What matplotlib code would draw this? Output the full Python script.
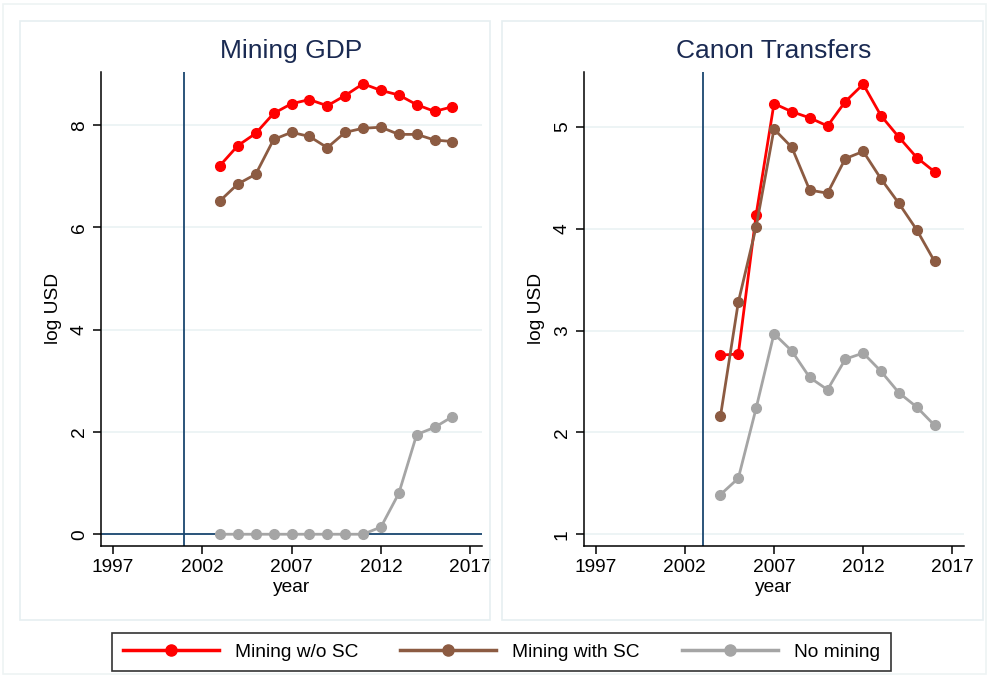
import matplotlib
matplotlib.use("Agg")
from matplotlib import pyplot as plt
from matplotlib.patches import Rectangle
from matplotlib.lines import Line2D

plt.rcParams['font.family'] = ['Liberation Sans', 'DejaVu Sans']

# Mining GDP panel
gdp_years = list(range(2003, 2017))
gdp_no_sc = [7.21, 7.60, 7.84, 8.23, 8.42, 8.50, 8.38, 8.58, 8.81, 8.68, 8.59, 8.40, 8.27, 8.36]
gdp_with_sc = [6.52, 6.85, 7.04, 7.72, 7.86, 7.78, 7.56, 7.86, 7.94, 7.96, 7.82, 7.82, 7.71, 7.68]
gdp_no_mining = [0, 0, 0, 0, 0, 0, 0, 0, 0, 0.14, 0.80, 1.95, 2.09, 2.30]

# Canon transfers panel
canon_years = list(range(2004, 2017))
canon_no_sc = [2.76, 2.77, 4.14, 5.23, 5.15, 5.09, 5.01, 5.25, 5.42, 5.11, 4.90, 4.70, 4.56]
canon_with_sc = [2.16, 3.28, 4.02, 4.98, 4.80, 4.38, 4.35, 4.69, 4.76, 4.49, 4.25, 3.99, 3.68]
canon_no_mining = [1.39, 1.55, 2.24, 2.97, 2.80, 2.54, 2.42, 2.72, 2.78, 2.60, 2.39, 2.25, 2.07]

series_labels = ["Mining w/o SC", "Mining with SC", "No mining"]
colors = ["#ff0000", "#8c5b42", "#a5a5a5"]
navy = "#1a476f"
grid_col = "#eaf2f3"
FS = 13.8

fig = plt.figure(figsize=(9.89, 6.77), dpi=100)
W, H = 989, 677

# faint panel frames (Stata look)
def px_rect(x0, y0, x1, y1, ec):
    fig.patches.append(Rectangle((x0 / W, 1 - y1 / H), (x1 - x0) / W, (y1 - y0) / H,
                                 transform=fig.transFigure, fill=False, edgecolor=ec, lw=1.2, zorder=0))

px_rect(3, 4, 986, 674, "#eef3f4")
px_rect(20, 21, 490, 620, "#e6eff1")
px_rect(502, 21, 983, 620, "#e6eff1")


def panel(rect, title, years, ys, ylim, yticks, vline, hline=None):
    ax = fig.add_axes(rect)
    for y, c in zip(ys, colors):
        ax.plot(years, y, color=c, lw=2, marker="o", ms=7, zorder=3, clip_on=False)
    ax.axvline(vline, color=navy, lw=1.3, zorder=2)
    if hline is not None:
        ax.axhline(hline, color=navy, lw=1.3, zorder=2)
    ax.set_xlim(1996.35, 2017.65)
    ax.set_ylim(*ylim)
    ax.set_xticks([1997, 2002, 2007, 2012, 2017])
    ax.set_yticks(yticks)
    ax.yaxis.grid(True, color=grid_col, lw=1.2)
    ax.set_axisbelow(True)
    for s in ["top", "right"]:
        ax.spines[s].set_visible(False)
    for s in ["left", "bottom"]:
        ax.spines[s].set_linewidth(1.1)
    ax.tick_params(axis="both", labelsize=FS, length=6, width=1.1, direction="out")
    for lab in ax.get_yticklabels():
        lab.set_rotation(90)
        lab.set_verticalalignment("center")
    ax.set_xlabel("year", fontsize=FS, labelpad=2)
    ax.set_ylabel("log USD", fontsize=FS, labelpad=6)
    ax.set_title(title, fontsize=19, color="#1a2a52", pad=10)
    return ax


panel([101 / W, 1 - 546 / H, 381 / W, 474 / H], "Mining GDP", gdp_years,
      [gdp_no_sc, gdp_with_sc, gdp_no_mining], (-0.23, 9.04), [0, 2, 4, 6, 8], 2001, hline=0)
panel([584 / W, 1 - 546 / H, 380 / W, 474 / H], "Canon Transfers", canon_years,
      [canon_no_sc, canon_with_sc, canon_no_mining], (0.885, 5.54), [1, 2, 3, 4, 5], 2003)

handles = [Line2D([], [], color=c, lw=2.5, marker="o", ms=8) for c in colors]
leg = fig.legend(handles, series_labels, loc="center", bbox_to_anchor=(501.5 / W, 1 - 652 / H),
                 ncol=3, fontsize=FS, handlelength=5.0, handletextpad=0.85, columnspacing=2.2,
                 frameon=True, fancybox=False, borderpad=0.55, borderaxespad=0)
leg.get_frame().set_edgecolor("black")
leg.get_frame().set_linewidth(1.2)

fig.savefig("out.png", dpi=100)
